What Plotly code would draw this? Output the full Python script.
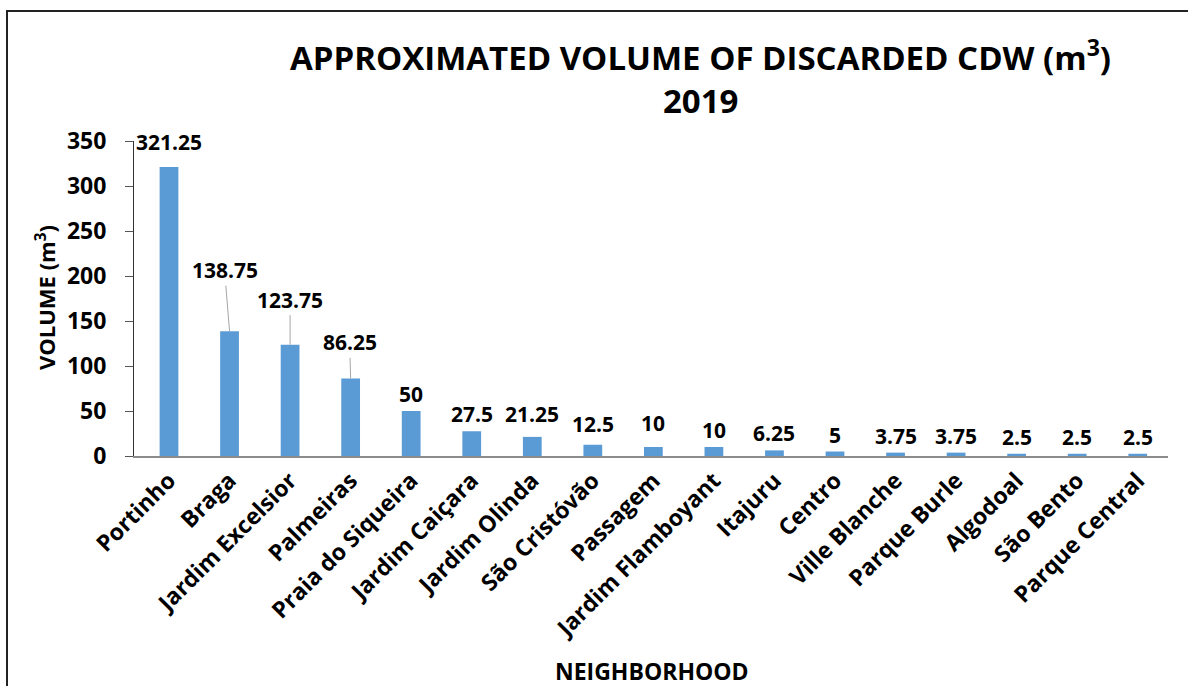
import plotly.graph_objects as go

neighborhoods = ["Portinho", "Braga", "Jardim Excelsior", "Palmeiras", "Praia do Siqueira",
                 "Jardim Caiçara", "Jardim Olinda", "São Cristóvão", "Passagem",
                 "Jardim Flamboyant", "Itajuru", "Centro", "Ville Blanche", "Parque Burle",
                 "Algodoal", "São Bento", "Parque Central"]
volumes = [321.25, 138.75, 123.75, 86.25, 50, 27.5, 21.25, 12.5, 10, 10, 6.25, 5, 3.75, 3.75, 2.5, 2.5, 2.5]
value_labels = ["321.25", "138.75", "123.75", "86.25", "50", "27.5", "21.25", "12.5", "10",
                "10", "6.25", "5", "3.75", "3.75", "2.5", "2.5", "2.5"]
y_ticks = [0, 50, 100, 150, 200, 250, 300, 350]

FONT = "Open Sans"
W, H = 1188, 686
ML, MR, MT, MB = 134, 20, 141, 230
PW, PH = W - ML - MR, H - MT - MB


def px(xp):
    return (xp - ML) / PW


def py(yp):
    return (H - MB - yp) / PH


def bold(size):
    return dict(family=FONT, size=size, color="black", weight="bold")


fig = go.Figure()
fig.add_trace(go.Bar(
    x=neighborhoods, y=volumes, width=0.31,
    marker=dict(color="#5B9BD5", line=dict(width=0)),
    hoverinfo="x+y",
))

# leader-line offsets (pixels) for the labels moved away from their bars
leader = {"Braga": (-5, -61), "Jardim Excelsior": (0, -45), "Palmeiras": (-1, -36)}
# label lift above bar top (pixels)
lift = {"Portinho": 25, "Passagem": 24, "São Cristóvão": 21, "Jardim Olinda": 23}

annotations = []
for name, v, lab in zip(neighborhoods, volumes, value_labels):
    if name in leader:
        ax, ay = leader[name]
        annotations.append(dict(
            x=name, y=v, xref="x", yref="y", text=lab, showarrow=True,
            ax=ax, ay=ay, arrowhead=0, arrowwidth=1, arrowcolor="#A6A6A6", standoff=0,
            font=bold(21)))
    else:
        annotations.append(dict(
            x=name, y=v, xref="x", yref="y", text=lab, showarrow=False,
            yanchor="middle", yshift=lift.get(name, 17), font=bold(21)))

annotations += [
    dict(text="APPROXIMATED VOLUME OF DISCARDED CDW (m<sup>3</sup>)", x=px(700), y=py(55),
         xref="paper", yref="paper", showarrow=False, xanchor="center", yanchor="middle",
         font=bold(33)),
    dict(text="2019", x=px(700), y=py(100), xref="paper", yref="paper", showarrow=False,
         xanchor="center", yanchor="middle", font=bold(33)),
    dict(text="NEIGHBORHOOD", x=px(652), y=py(671), xref="paper", yref="paper", showarrow=False,
         xanchor="center", yanchor="middle", font=bold(23)),
    dict(text="VOLUME (m<sup>3</sup>)", x=px(45), y=py(298), xref="paper", yref="paper",
         showarrow=False, xanchor="center", yanchor="middle", textangle=-90, font=bold(22)),
]

fig.update_layout(
    width=W, height=H,
    margin=dict(l=ML, r=MR, t=MT, b=MB, autoexpand=False),
    paper_bgcolor="white", plot_bgcolor="white",
    showlegend=False,
    annotations=annotations,
    font=dict(family=FONT, color="black"),
    shapes=[dict(type="rect", xref="paper", yref="paper",
                 x0=px(7), x1=1.2, y0=-1.0, y1=py(11),
                 line=dict(color="#222222", width=2), layer="below")],
)

fig.update_xaxes(
    tickangle=-45, showline=True, linecolor="#8C8C8C", linewidth=2, ticks="",
    showgrid=False, tickfont=bold(23), automargin=False,
)
fig.update_yaxes(
    range=[0, 350], tickvals=y_ticks, showline=True, linecolor="#333333", linewidth=1,
    ticks="outside", ticklen=8, tickcolor="#555555", showgrid=False, zeroline=False,
    tickfont=bold(23), ticklabelstandoff=14, automargin=False,
)

fig.write_html("out.html", config={"displayModeBar": False},
               post_script="document.body.style.margin='0';document.body.style.overflow='hidden';")
